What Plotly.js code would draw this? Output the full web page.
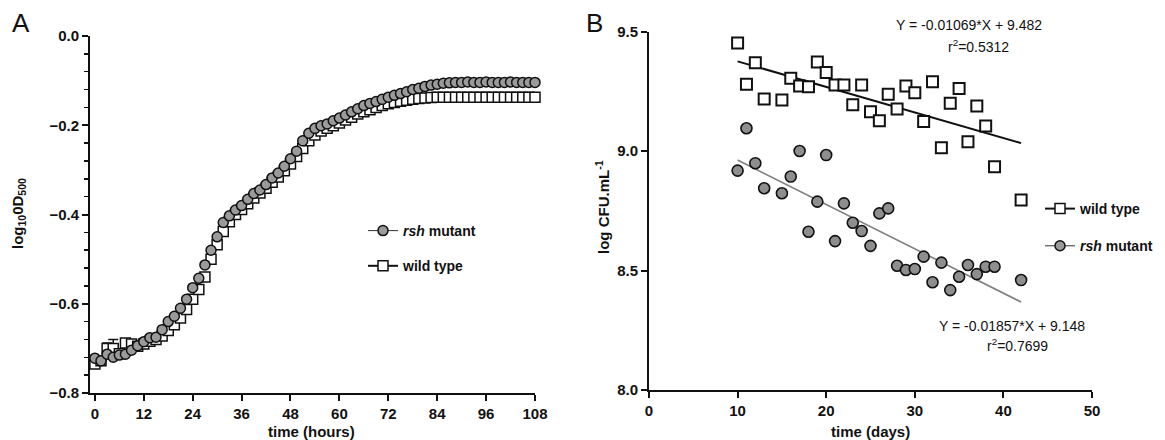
<!DOCTYPE html>
<html>
<head>
<meta charset="utf-8">
<script src="https://cdn.plot.ly/plotly-3.0.1.min.js"></script>
<style>html,body{margin:0;padding:0;background:#fff;}#chart{width:1165px;height:440px;}</style>
</head>
<body>
<div id="chart"></div>
<script>
// ---------- Panel A data ----------
const hours = [0,1.5,3,4.5,6,7.5,9,10.5,12,13.5,15,16.5,18,19.5,21,22.5,24,25.5,27,28.5,30,31.5,33,34.5,36,37.5,39,40.5,42,43.5,45,46.5,48,49.5,51,52.5,54,55.5,57,58.5,60,61.5,63,64.5,66,67.5,69,70.5,72,73.5,75,76.5,78,79.5,81,82.5,84,85.5,87,88.5,90,91.5,93,94.5,96,97.5,99,100.5,102,103.5,105,106.5,108];
const mutantOD = [-0.722,-0.728,-0.713,-0.720,-0.715,-0.713,-0.704,-0.694,-0.685,-0.676,-0.675,-0.658,-0.640,-0.628,-0.610,-0.590,-0.564,-0.543,-0.513,-0.480,-0.450,-0.418,-0.403,-0.390,-0.380,-0.366,-0.353,-0.345,-0.333,-0.318,-0.307,-0.292,-0.275,-0.258,-0.235,-0.218,-0.207,-0.201,-0.197,-0.190,-0.184,-0.177,-0.170,-0.163,-0.156,-0.151,-0.147,-0.142,-0.137,-0.133,-0.129,-0.125,-0.120,-0.117,-0.113,-0.110,-0.108,-0.106,-0.105,-0.104,-0.104,-0.103,-0.104,-0.104,-0.103,-0.104,-0.104,-0.104,-0.103,-0.104,-0.104,-0.104,-0.104];
const wildOD = [-0.735,-0.728,-0.700,-0.700,-0.712,-0.688,-0.690,-0.695,-0.690,-0.684,-0.680,-0.672,-0.660,-0.647,-0.632,-0.613,-0.590,-0.568,-0.540,-0.500,-0.468,-0.438,-0.416,-0.400,-0.389,-0.376,-0.363,-0.352,-0.341,-0.328,-0.316,-0.302,-0.287,-0.270,-0.252,-0.235,-0.222,-0.213,-0.207,-0.201,-0.195,-0.188,-0.182,-0.175,-0.170,-0.165,-0.160,-0.156,-0.152,-0.149,-0.146,-0.144,-0.142,-0.140,-0.139,-0.138,-0.137,-0.137,-0.137,-0.137,-0.137,-0.137,-0.137,-0.137,-0.137,-0.137,-0.137,-0.137,-0.137,-0.137,-0.137,-0.137,-0.137];
const wildErr = [null,null,0.012,0.02,null,null,null,null,null,null,null,null,null,null,null,null,null,null,null,null,null,null,null,null,null,null,null,null,null,null,null,null,null,null,null,null,null,null,null,null,null,null,null,null,null,null,null,null,null,null,null,null,null,null,null,null,null,null,null,null,null,null,null,null,null,null,null,null,null,null,null,null,null];
const hourTicks = [0,12,24,36,48,60,72,84,96,108];
const odTicks = [-0.8,-0.6,-0.4,-0.2,0.0];

// ---------- Panel B data ----------
const days = [10,11,12,13,15,16,17,18,19,20,21,22,23,24,25,26,27,28,29,30,31,32,33,34,35,36,37,38,39,42];
const wildCFU = [9.452,9.279,9.369,9.218,9.213,9.304,9.272,9.269,9.372,9.328,9.276,9.276,9.193,9.276,9.164,9.127,9.237,9.176,9.272,9.244,9.123,9.290,9.014,9.200,9.262,9.039,9.188,9.105,8.934,8.795];
const mutantCFU = [8.918,9.095,8.949,8.844,8.823,8.893,9.000,8.662,8.788,8.983,8.623,8.781,8.700,8.665,8.603,8.739,8.760,8.520,8.502,8.506,8.558,8.451,8.533,8.418,8.474,8.523,8.485,8.516,8.516,8.460];
const fitX = [10,42];
const wildFitY = [9.375,9.033];
const mutantFitY = [8.962,8.368];
const dayTicks = [0,10,20,30,40,50];
const cfuTicks = [8.0,8.5,9.0,9.5];

const FONT = 'Liberation Sans, Arial, sans-serif';
const W = 1165, H = 440;
const px = v => v / W;
const py = v => 1 - v / H;

const circleMarkerA = {symbol:'circle', size:10, color:'#9a9a9a', line:{color:'#111', width:1.5}};
const squareMarkerA = {symbol:'square', size:10, color:'#fff', line:{color:'#111', width:1.5}};
const circleMarkerB = {symbol:'circle', size:11, color:'#8e8e8e', line:{color:'#111', width:1.6}};
const squareMarkerB = {symbol:'square', size:11, color:'#fff', line:{color:'#111', width:2}};

const traces = [
  {x:hours, y:wildOD, xaxis:'x', yaxis:'y', mode:'markers', marker:squareMarkerA, showlegend:false, cliponaxis:false,
   error_y:{type:'data', array:wildErr, symmetric:true, color:'#111', thickness:1.5, width:5}},
  {x:hours, y:mutantOD, xaxis:'x', yaxis:'y', mode:'markers', marker:circleMarkerA, showlegend:false, cliponaxis:false},
  // legend A entries
  {x:[null], y:[null], xaxis:'x', yaxis:'y', mode:'lines+markers', name:'<i>rsh</i> mutant', legend:'legend', legendgroup:'a1',
   marker:circleMarkerA, line:{color:'#333', width:1}},
  {x:[null], y:[null], xaxis:'x', yaxis:'y', mode:'lines+markers', name:'wild type', legend:'legend', legendgroup:'a2',
   marker:squareMarkerA, line:{color:'#111', width:2}},
  // Panel B
  {x:fitX, y:wildFitY, xaxis:'x2', yaxis:'y2', mode:'lines', line:{color:'#111', width:2}, showlegend:false},
  {x:fitX, y:mutantFitY, xaxis:'x2', yaxis:'y2', mode:'lines', line:{color:'#7f7f7f', width:1.6}, showlegend:false},
  {x:days, y:wildCFU, xaxis:'x2', yaxis:'y2', mode:'markers', marker:squareMarkerB, showlegend:false, cliponaxis:false},
  {x:days, y:mutantCFU, xaxis:'x2', yaxis:'y2', mode:'markers', marker:circleMarkerB, showlegend:false, cliponaxis:false},
  {x:[null], y:[null], xaxis:'x2', yaxis:'y2', mode:'lines+markers', name:'wild type', legend:'legend2', legendgroup:'b1',
   marker:squareMarkerA, line:{color:'#111', width:2}},
  {x:[null], y:[null], xaxis:'x2', yaxis:'y2', mode:'lines+markers', name:'<i>rsh</i> mutant', legend:'legend2', legendgroup:'b2',
   marker:circleMarkerA, line:{color:'#333', width:1}}
];

const tickFont = {family:FONT, size:15, color:'#111', weight:'bold'};
const axisCommon = {showline:true, linecolor:'#111', linewidth:2, ticks:'outside', ticklen:6, tickwidth:2, tickcolor:'#111',
  showgrid:false, zeroline:false, tickfont:tickFont, fixedrange:true};

const layout = {
  width:W, height:H,
  margin:{l:0, r:0, t:0, b:0},
  paper_bgcolor:'#fff', plot_bgcolor:'rgba(0,0,0,0)',
  font:{family:FONT, color:'#111'},
  xaxis: Object.assign({}, axisCommon, {domain:[px(90), px(535)], range:[-1.2, 108], tickmode:'array', tickvals:hourTicks, anchor:'y'}),
  yaxis: Object.assign({}, axisCommon, {domain:[1-393/H, 1-36/H], range:[-0.8, 0], tickmode:'array', tickvals:odTicks, tickformat:'.1f', anchor:'x',
    minor:{dtick:0.04, tick0:0, ticks:'outside', ticklen:4, tickwidth:1.5, tickcolor:'#111', showgrid:false}}),
  xaxis2: Object.assign({}, axisCommon, {domain:[px(649), px(1092)], range:[0, 50], tickmode:'array', tickvals:dayTicks, anchor:'y2'}),
  yaxis2: Object.assign({}, axisCommon, {domain:[1-390/H, 1-31.5/H], range:[8.0, 9.5], tickmode:'array', tickvals:cfuTicks, tickformat:'.1f', anchor:'x2'}),
  legend: {x:px(363), y:py(215), xanchor:'left', yanchor:'top', bgcolor:'rgba(0,0,0,0)', traceorder:'grouped', tracegroupgap:14,
    font:{family:FONT, size:14, color:'#111', weight:'bold'}},
  legend2: {x:px(1040), y:py(193), xanchor:'left', yanchor:'top', bgcolor:'rgba(0,0,0,0)', traceorder:'grouped', tracegroupgap:16,
    font:{family:FONT, size:14, color:'#111', weight:'bold'}},
  annotations: [
    {text:'A', xref:'paper', yref:'paper', x:px(10), y:py(23), xanchor:'left', yanchor:'middle', showarrow:false, font:{family:FONT, size:26, color:'#111'}},
    {text:'B', xref:'paper', yref:'paper', x:px(584), y:py(23), xanchor:'left', yanchor:'middle', showarrow:false, font:{family:FONT, size:26, color:'#111'}},
    {text:'log<sub>10</sub>0D<sub>500</sub>', xref:'paper', yref:'paper', x:px(18), y:py(214), xanchor:'center', yanchor:'middle', textangle:-90, showarrow:false,
      font:{family:FONT, size:15, color:'#111', weight:'bold'}},
    {text:'time (hours)', xref:'paper', yref:'paper', x:px(311), y:py(431), xanchor:'center', yanchor:'middle', showarrow:false,
      font:{family:FONT, size:15, color:'#111', weight:'bold'}},
    {text:'log CFU.mL<sup>-1</sup>', xref:'paper', yref:'paper', x:px(602), y:py(207), xanchor:'center', yanchor:'middle', textangle:-90, showarrow:false,
      font:{family:FONT, size:15, color:'#111', weight:'bold'}},
    {text:'time (days)', xref:'paper', yref:'paper', x:px(870), y:py(431), xanchor:'center', yanchor:'middle', showarrow:false,
      font:{family:FONT, size:15, color:'#111', weight:'bold'}},
    {text:'Y = -0.01069*X + 9.482', xref:'paper', yref:'paper', x:px(969), y:py(25), xanchor:'center', yanchor:'middle', showarrow:false,
      font:{family:FONT, size:14, color:'#111'}},
    {text:'r<sup>2</sup>=0.5312', xref:'paper', yref:'paper', x:px(979), y:py(46), xanchor:'center', yanchor:'middle', showarrow:false,
      font:{family:FONT, size:14, color:'#111'}},
    {text:'Y = -0.01857*X + 9.148', xref:'paper', yref:'paper', x:px(1012), y:py(326), xanchor:'center', yanchor:'middle', showarrow:false,
      font:{family:FONT, size:14, color:'#111'}},
    {text:'r<sup>2</sup>=0.7699', xref:'paper', yref:'paper', x:px(1017), y:py(345), xanchor:'center', yanchor:'middle', showarrow:false,
      font:{family:FONT, size:14, color:'#111'}}
  ]
};

Plotly.newPlot('chart', traces, layout, {displayModeBar:false, staticPlot:true});
</script>
</body>
</html>
